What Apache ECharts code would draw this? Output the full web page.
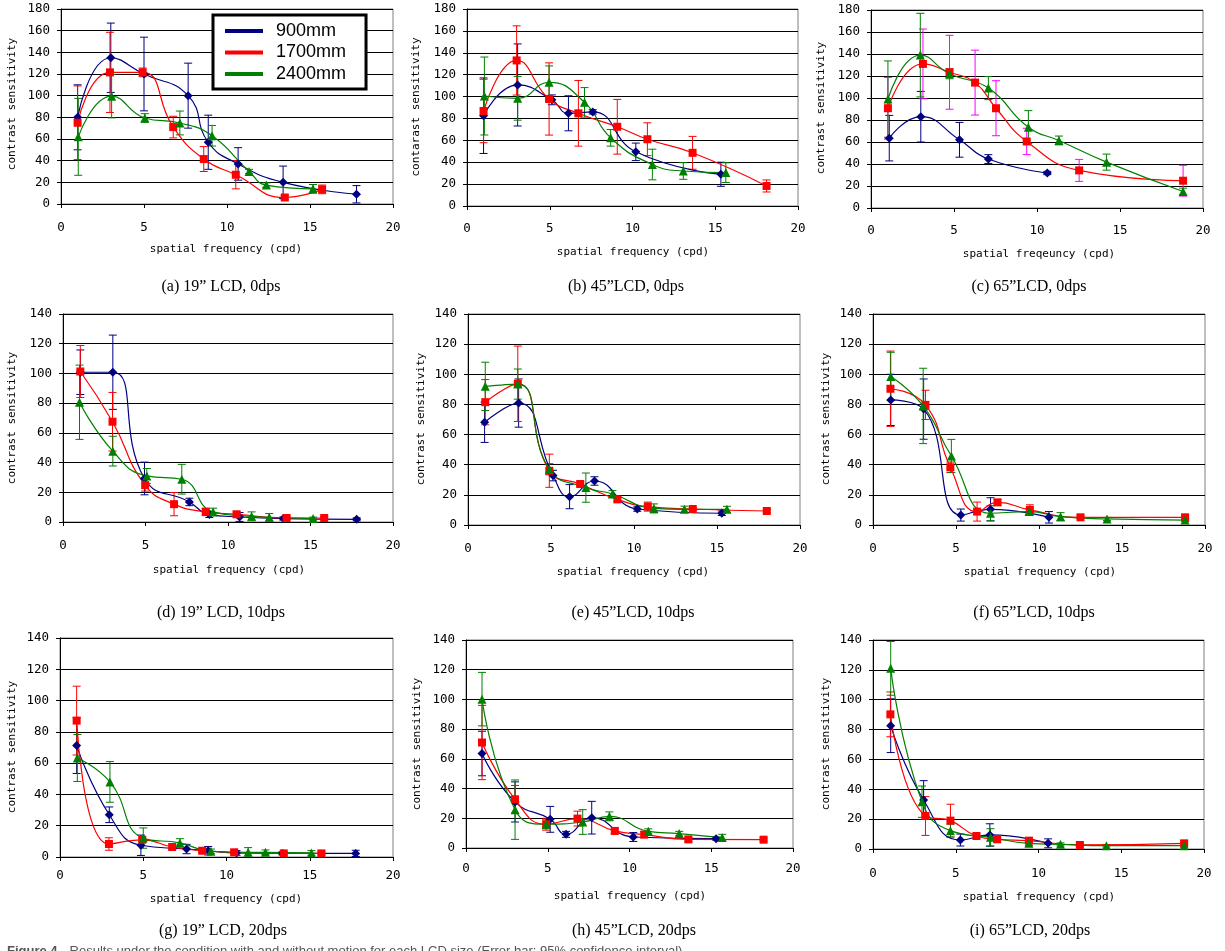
<!DOCTYPE html>
<html><head><meta charset="utf-8">
<script src="https://cdn.jsdelivr.net/npm/echarts@6/dist/echarts.min.js"></script>
<style>html,body{margin:0;padding:0;background:#fff}#c{width:1225px;height:951px}</style>
</head><body><div id="c"></div><script>
// ---- data: [spatial frequency (cpd), contrast sensitivity, error half-width] ----
// (a) 19" LCD, 0dps
const a900  = [[1,80,30],[3,135,32],[5,120,34],[7.66,100,30],[8.87,57,25],[10.67,37,15],[13.38,20,15],[17.8,9,8]];
const a1700 = [[1,75,34],[2.95,121.5,37],[4.92,121.5,4],[6.76,71,10],[8.6,41.5,11.5],[10.53,27,13],[13.48,6,2],[15.73,13.5,4]];
const a2400 = [[1.04,62,35.5],[3.05,99.5,20],[5.05,79.4,4],[7.16,74.8,11],[9.1,63,9.5],[11.33,30,2],[12.37,17.5,2],[15.18,14,4]];
// (b) 45"LCD, 0dps
const b900  = [[1,82.5,34.5],[3.06,110.6,37.5],[5.13,97,4.5],[6.13,84.7,16],[7.6,86,2],[10.2,49.5,8],[15.34,29,11]];
const b1700 = [[1,86.8,29],[3,133,31.6],[4.96,97.8,33],[6.73,84.7,30],[9.08,72.4,25],[10.9,61,15],[13.63,48.6,15],[18.1,18.3,5.5]];
const b2400 = [[1.05,100.5,35.6],[3.06,98.4,20],[4.96,113,15],[7.1,94.7,13.5],[8.68,62.3,7.6],[11.2,37.9,14],[13.07,32,7.6],[15.64,30.5,9]];
// (c) 65"LCD, 0dps
const c900  = [[1.1,63.5,20.7],[3,83,23],[5.33,62,15.8],[7.07,44.5,4],[10.62,31.8,1.5]];
const c1700 = [[1.02,90.7,28],[3.13,131,31.7],[4.73,123.4,33.6],[6.27,114,29.5],[7.53,90.7,25],[9.38,60.5,12],[12.54,34.2,10],[18.8,24.8,14]];
const c2400 = [[1.02,99,34.7],[2.97,139,38],[4.73,122,4.5],[7.07,109,10.5],[9.48,73.5,15],[11.32,61.4,4],[14.19,41.7,7.3],[18.8,15,3]];
// (d) 19" LCD, 10dps
const d900  = [[1.05,100.8,15],[3.02,100.8,25],[4.94,29.3,11],[7.66,13.5,2.5],[8.87,5,2],[10.7,3.4,3],[13.35,2.3,1],[17.8,1.8,1]];
const d1700 = [[1.05,101.3,17.5],[3,67.5,19.7],[4.98,24.8,4],[6.73,12,7.8],[8.65,6.8,2.5],[10.52,5.2,1.5],[13.55,2.7,1],[15.83,2.7,1]];
const d2400 = [[1,80.6,25],[3.02,47.7,10],[5.08,31,5],[7.2,28.8,10],[9.1,6.8,2.5],[11.43,3.8,3],[12.5,3.2,2.5],[15.16,2.3,1]];
// (e) 45"LCD, 10dps
const e900  = [[1,68.2,13.4],[3.05,80.9,16],[5.12,32.8,3.5],[6.12,18.8,8],[7.62,29.2,2.8],[10.2,10.6,1.5],[15.29,7.8,1.5]];
const e1700 = [[1.04,81.5,15],[3,93.7,25],[4.9,36,11],[6.76,27.2,1.5],[9,17,1.5],[10.83,12.2,3],[13.54,10.6,1],[18,9.3,1]];
const e2400 = [[1.04,92,16],[3,93.5,10],[4.9,37,3.7],[7.1,24.8,9.7],[8.7,20.6,2.2],[11.2,11,3],[13.04,10.4,2.1],[15.6,10.4,2]];
// (f) 65"LCD, 10dps
const f900  = [[1.07,83,17],[3.05,76.9,20],[5.29,6.6,4],[7.08,10.4,7.7],[10.6,5.1,3.8]];
const f1700 = [[1.05,90.4,25],[3.16,79.7,9.7],[4.66,38.3,3.5],[6.27,8.9,6.3],[7.5,15,2],[9.45,10,3.4],[12.5,5.1,1],[18.8,5.1,1]];
const f2400 = [[1.07,98.6,16],[3.02,79,25],[4.72,45.8,11],[7.08,7.8,5],[9.4,8.9,2],[11.3,5.5,2.7],[14.1,4,1],[18.8,3.3,1]];
// (g) 19" LCD, 20dps
const g900  = [[1,71.2,17.8],[2.96,27,5],[4.86,7.5,6.5],[7.6,5.1,3],[8.9,4,2.7],[10.6,2.6,1.5],[13.36,2.3,1],[17.76,2.3,2]];
const g1700 = [[1,87.2,22],[2.94,8.3,4],[4.94,11,1],[6.74,6.4,1.5],[8.54,4,1],[10.46,3,1],[13.44,2.3,1],[15.7,2.3,1]];
const g2400 = [[1.04,63.3,15],[3,48,13],[5,12.1,6.5],[7.2,9,2.7],[9.06,3.6,1.5],[11.3,3,3],[12.34,3,1.5],[15.1,2.6,1.5]];
// (h) 45"LCD, 20dps
const h900  = [[0.98,63.6,15],[3,31,13.5],[5.15,19.3,8.7],[6.12,9.2,2],[7.69,20.4,11],[10.23,7.4,3],[15.3,6.3,1]];
const h1700 = [[0.98,71,25],[3,32.8,9.3],[4.9,16,4],[6.82,19.8,5],[9.1,11.5,2],[10.9,9,2],[13.6,5.8,1.5],[18.2,5.6,1]];
const h2400 = [[0.98,100.2,18],[3,25.8,20],[4.9,16,3],[7.14,17.5,8.3],[8.77,21.3,3],[11.15,11.2,1.7],[13.04,9.7,1.5],[15.67,7,2.2]];
// (i) 65"LCD, 20dps
const i900  = [[1.07,82.6,18],[3.06,32.8,13],[5.28,6,4],[7.06,9.4,7.5],[10.58,3.8,3]];
const i1700 = [[1.05,90.2,15],[3.17,22.1,13],[4.68,19,11],[6.25,8.7,1.5],[7.5,6.5,1],[9.42,5.6,1.5],[12.5,2.7,1],[18.8,3.8,1.5]];
const i2400 = [[1.07,121,18],[2.96,31.7,10.5],[4.68,12.3,4.3],[7.1,7.8,5.8],[9.42,3.8,1.5],[11.33,3.1,1],[14.1,2.2,0.8],[18.8,2.2,1]];

const seriesNames = ['900mm','1700mm','2400mm'];
const panelData = [
  [a900,a1700,a2400],[b900,b1700,b2400],[c900,c1700,c2400],
  [d900,d1700,d2400],[e900,e1700,e2400],[f900,f1700,f2400],
  [g900,g1700,g2400],[h900,h1700,h2400],[i900,i1700,i2400]
];
const yMaxes = [180,180,180,140,140,140,140,140,140];
const xTicks = [0,5,10,15,20];
const captions = ['(a) 19\u201d LCD, 0dps','(b) 45\u201dLCD, 0dps','(c) 65\u201dLCD, 0dps',
  '(d) 19\u201d LCD, 10dps','(e) 45\u201dLCD, 10dps','(f) 65\u201dLCD, 10dps',
  '(g) 19\u201d LCD, 20dps','(h) 45\u201dLCD, 20dps','(i) 65\u201dLCD, 20dps'];
const yTitles = ['contrast sensitivity','contarast sensitivity','contrast sensitivity',
  'contrast sensitivity','contrast sensitivity','contrast sensitivity',
  'contrast sensitivity','contrast sensitivity','contrast sensitivity'];
const xTitles = ['spatial frequency (cpd)','spatial frequency (cpd)','spatial freqeuncy (cpd)',
  'spatial frequency (cpd)','spatial frequency (cpd)','spatial frequency (cpd)',
  'spatial frequency (cpd)','spatial frequency (cpd)','spatial frequency (cpd)'];
const figCaptionBold = 'Figure 4.';
const figCaptionRest = ' Results under the condition with and without motion for each LCD size (Error bar: 95% confidence interval)';

// ---- layout & style ----
const layout = [
 {left:61, top:9,  w:332,h:195, xm:17, ytx:12,  yty:104, xtx:226, xty:249, cx:221, cy:287},
 {left:467,top:9,  w:331,h:197, xm:16, ytx:416, yty:107, xtx:633, xty:252, cx:626, cy:287},
 {left:871,top:10, w:332,h:198, xm:16, ytx:821, yty:108, xtx:1039,xty:254, cx:1029,cy:287},
 {left:63, top:314,w:330,h:208, xm:17, ytx:12,  yty:418, xtx:229, xty:570, cx:221, cy:613},
 {left:468,top:314,w:332,h:211, xm:17, ytx:421, yty:419, xtx:633, xty:572, cx:633, cy:613},
 {left:873,top:314,w:332,h:211, xm:17, ytx:826, yty:419, xtx:1040,xty:572, cx:1034,cy:613},
 {left:60, top:638,w:333,h:219, xm:12, ytx:12,  yty:747, xtx:226, xty:899, cx:223, cy:931},
 {left:466,top:640,w:327,h:208, xm:14, ytx:417, yty:744, xtx:630, xty:896, cx:634, cy:931},
 {left:873,top:640,w:331,h:209, xm:18, ytx:826, yty:744, xtx:1039,xty:897, cx:1030,cy:931}
];
const colors = ['#000080','#ff0000','#008000'];
const symbols = ['diamond','rect','triangle'];
const symbolSizes = [[9,9],8,9];
const monoFont = '"DejaVu Sans Mono", monospace';

function errRender(params, api) {
  const x = api.value(0), lo = api.value(1), hi = api.value(2);
  const p1 = api.coord([x, hi]), p2 = api.coord([x, lo]);
  const hw = 4;
  const style = {stroke: api.visual('color'), lineWidth: 1, fill: null};
  return {type:'group', children:[
    {type:'line', shape:{x1:p1[0],y1:p1[1],x2:p2[0],y2:p2[1]}, style:style},
    {type:'line', shape:{x1:p1[0]-hw,y1:p1[1],x2:p1[0]+hw,y2:p1[1]}, style:style},
    {type:'line', shape:{x1:p2[0]-hw,y1:p2[1],x2:p2[0]+hw,y2:p2[1]}, style:style}
  ]};
}

const grids=[], xAxes=[], yAxes=[], series=[], graphics=[];
panelData.forEach((pd, i) => {
  const L = layout[i];
  grids.push({left:L.left, top:L.top, width:L.w, height:L.h, show:true,
    borderColor:'#808080', borderWidth:1, backgroundColor:'#fff', containLabel:false});
  xAxes.push({gridIndex:i, type:'value', min:xTicks[0], max:xTicks[xTicks.length-1], interval:xTicks[1]-xTicks[0],
    axisLine:{show:true, onZero:false, lineStyle:{color:'#000', width:1}},
    axisTick:{show:true, length:4, lineStyle:{color:'#000'}},
    splitLine:{show:false},
    axisLabel:{margin:L.xm, fontFamily:monoFont, fontSize:12.5, color:'#000', showMaxLabel:true, showMinLabel:true}});
  yAxes.push({gridIndex:i, type:'value', min:0, max:yMaxes[i], interval:20,
    axisLine:{show:true, onZero:false, lineStyle:{color:'#000', width:1}},
    axisTick:{show:true, length:4, lineStyle:{color:'#000'}},
    splitLine:{show:true, lineStyle:{color:'#000', width:1}},
    axisLabel:{margin:11, fontFamily:monoFont, fontSize:12.5, color:'#000'}});
  pd.forEach((arr, k) => {
    const col = colors[k];
    series.push({type:'line', name:seriesNames[k], xAxisIndex:i, yAxisIndex:i,
      data: arr.map(d => [d[0], d[1]]), smooth:0.5, symbol:symbols[k], symbolSize:symbolSizes[k],
      showAllSymbol:true, lineStyle:{color:col, width:1.2}, itemStyle:{color:col}, z:3, silent:true});
  });
  pd.forEach((arr, k) => {
    const errCol = (i === 2 && k === 1) ? '#ff00ff' : colors[k];
    series.push({type:'custom', name:seriesNames[k], xAxisIndex:i, yAxisIndex:i, renderItem:errRender,
      itemStyle:{color:errCol}, data: arr.map(d => [d[0], d[1]-d[2], d[1]+d[2]]),
      encode:{x:0, y:[1,2]}, z:2, clip:true, silent:true});
  });
  graphics.push({type:'text', x:L.ytx, y:L.yty, rotation:Math.PI/2,
    style:{text:yTitles[i], font:'11px ' + monoFont, fill:'#000', align:'center', verticalAlign:'middle', textAlign:'center', textVerticalAlign:'middle'}});
  graphics.push({type:'text', x:L.xtx, y:L.xty,
    style:{text:xTitles[i], font:'11px ' + monoFont, fill:'#000', align:'center', verticalAlign:'middle', textAlign:'center', textVerticalAlign:'middle'}});
  graphics.push({type:'text', x:L.cx, y:L.cy,
    style:{text:captions[i], font:'16px "Liberation Serif", serif', fill:'#000', align:'center', verticalAlign:'middle', textAlign:'center', textVerticalAlign:'middle'}});
});
graphics.push({type:'text', x:7, y:945,
  style:{text:figCaptionBold, font:'bold 13px "Liberation Sans", sans-serif', fill:'#555', align:'left', verticalAlign:'top', textAlign:'left', textVerticalAlign:'top'}});
graphics.push({type:'text', x:66, y:945,
  style:{text:figCaptionRest, font:'13px "Liberation Sans", sans-serif', fill:'#555', align:'left', verticalAlign:'top', textAlign:'left', textVerticalAlign:'top'}});

const chart = echarts.init(document.getElementById('c'), null, {renderer:'canvas'});
chart.setOption({
  backgroundColor:'#fff',
  animation:false,
  grid:grids, xAxis:xAxes, yAxis:yAxes, series:series, graphic:graphics,
  legend:{orient:'vertical', left:213, top:15, padding:[7,20,6,12], itemGap:3.5, itemWidth:38, itemHeight:4,
    icon:'rect', borderColor:'#000', borderWidth:3, backgroundColor:'#fff', selectedMode:false, z:10,
    textStyle:{fontFamily:'"Liberation Sans", Arial, sans-serif', fontSize:18, color:'#000', padding:[0,0,0,8]},
    data:seriesNames.map((n,k) => ({name:n, itemStyle:{color:colors[k]}}))}
});
</script></body></html>
